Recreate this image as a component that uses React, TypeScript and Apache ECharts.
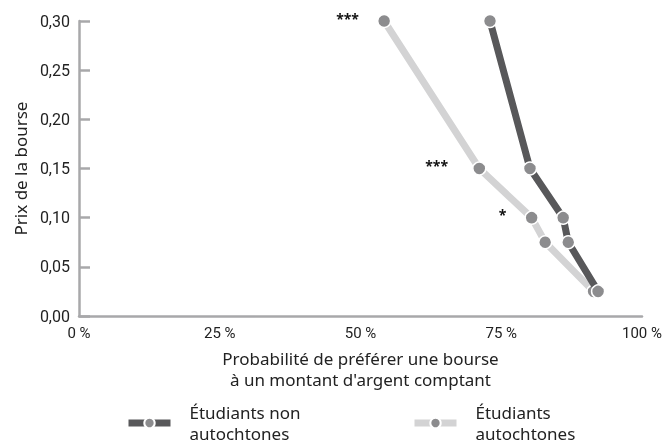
import React, { useEffect, useRef } from "react";
import * as echarts from "echarts";

const prices = [0.3, 0.15, 0.1, 0.075, 0.025];
const nonAutochtones = [73.0, 80.1, 86.0, 86.9, 92.2];
const autochtones = [54.2, 71.1, 80.4, 82.8, 91.4];
const significance = ["***", "***", "*", "", ""];
const xTicks = [0, 25, 50, 75, 100];
const seriesNames = ["Étudiants non\nautochtones", "Étudiants\nautochtones"];

const condensed = "Roboto, sans-serif";
const sans = "'Noto Sans', 'DejaVu Sans', sans-serif";

export default function App() {
  const ref = useRef<HTMLDivElement>(null);
  useEffect(() => {
    if (!ref.current) return;
    const chart = echarts.init(ref.current, undefined, { renderer: "svg" });
    const pointStyle = { color: "#8c8c8e", borderColor: "#ffffff", borderWidth: 1.5 };
    const legendBase = {
      top: 397,
      itemWidth: 42,
      itemHeight: 13,
      lineStyle: { width: 7 },
      textStyle: { fontFamily: sans, fontSize: 17, color: "#222", lineHeight: 21, padding: [0, 0, 0, 14] },
    };
    chart.setOption({
      animation: false,
      grid: { left: 79, right: 23, top: 21, bottom: 131, containLabel: false },
      legend: [
        { ...legendBase, data: [seriesNames[0]], left: 120 },
        { ...legendBase, data: [seriesNames[1]], left: 406 },
      ],
      xAxis: {
        type: "value",
        min: xTicks[0],
        max: xTicks[xTicks.length - 1],
        interval: 25,
        name: "Probabilité de préférer une bourse\nà un montant d'argent comptant",
        nameLocation: "middle",
        nameGap: 32,
        nameTextStyle: { fontFamily: sans, fontSize: 17, color: "#222", lineHeight: 21, verticalAlign: "top" },
        axisLine: { show: true, lineStyle: { color: "#a8a8aa", width: 2.5 } },
        axisTick: { show: false },
        splitLine: { show: false },
        axisLabel: {
          formatter: (v: number) => `${v} %`,
          fontFamily: condensed,
          fontSize: 15,
          color: "#222",
          margin: 9,
        },
      },
      yAxis: {
        type: "value",
        min: 0,
        max: 0.3,
        interval: 0.05,
        name: "Prix de la bourse",
        nameLocation: "middle",
        nameGap: 50,
        nameTextStyle: { fontFamily: sans, fontSize: 17, color: "#222" },
        axisLine: { show: true, lineStyle: { color: "#a8a8aa", width: 2.5 } },
        axisTick: { show: true, inside: true, length: 11, lineStyle: { color: "#a8a8aa", width: 2.5 } },
        splitLine: { show: false },
        axisLabel: {
          formatter: (v: number) => v.toFixed(2).replace(".", ","),
          fontFamily: condensed,
          fontSize: 16,
          color: "#222",
          margin: 9,
        },
      },
      series: [
        {
          name: seriesNames[0],
          type: "line",
          data: nonAutochtones.map((x, i) => [x, prices[i]]),
          symbol: "circle",
          symbolSize: 13,
          z: 3,
          lineStyle: { color: "#58585a", width: 7 },
          itemStyle: pointStyle,
        },
        {
          name: seriesNames[1],
          type: "line",
          data: autochtones.map((x, i) => ({
            value: [x, prices[i]],
            label: {
              show: significance[i] !== "",
              formatter: significance[i],
              position: "left",
              distance: i === 1 ? 24 : 18,
              fontFamily: sans,
              fontSize: 14,
              fontWeight: "bold",
              color: "#111",
              offset: [0, -3],
            },
          })),
          symbol: "circle",
          symbolSize: 13,
          z: 2,
          lineStyle: { color: "#d3d3d4", width: 7 },
          itemStyle: pointStyle,
        },
      ],
    });
    return () => chart.dispose();
  }, []);
  return <div ref={ref} style={{ position: "fixed", left: 0, top: 0, width: 665, height: 447 }} />;
}
